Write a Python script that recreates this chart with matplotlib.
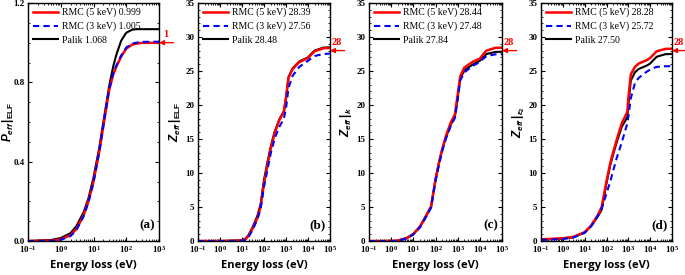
import numpy as np
import matplotlib
matplotlib.use("Agg")
import matplotlib.pyplot as plt
from matplotlib.ticker import LogLocator, MultipleLocator, NullFormatter

# --- Data ---

# (a) P_eff | ELF
a_energy = [0.1, 0.5, 1, 2, 3, 5, 7, 10, 15, 20, 30, 40, 50, 70, 100, 150, 200, 300, 1000]
a_rmc5 = [0, 0.002, 0.008, 0.03, 0.06, 0.13, 0.20, 0.30, 0.45, 0.58, 0.76, 0.84, 0.88,
          0.93, 0.97, 0.99, 0.995, 0.999, 0.999]
a_rmc3 = [0, 0.001, 0.006, 0.025, 0.055, 0.125, 0.195, 0.295, 0.45, 0.58, 0.765, 0.845,
          0.885, 0.935, 0.975, 0.995, 1.0, 1.004, 1.005]
a_palik = [0, 0.005, 0.015, 0.04, 0.075, 0.145, 0.215, 0.32, 0.47, 0.60, 0.78, 0.88,
           0.94, 1.01, 1.05, 1.065, 1.068, 1.068, 1.068]

# (b) Z_eff | ELF
b_energy = [0.1, 1, 10, 15, 20, 30, 50, 70, 100, 150, 200, 300, 500, 800, 1000, 1300,
            2000, 4000, 10000, 13000, 20000, 50000, 100000]
b_rmc5 = [0, 0, 0.05, 0.3, 0.8, 1.8, 3.4, 5.0, 8.5, 11.5, 13.5, 15.8, 17.8, 19.0, 21.0,
          24.0, 25.3, 26.3, 26.9, 27.3, 27.9, 28.35, 28.39]
b_rmc3 = [0, 0, 0.03, 0.2, 0.6, 1.6, 3.2, 4.7, 8.0, 10.8, 12.8, 15.0, 16.8, 18.0, 19.5,
          22.5, 24.3, 25.6, 26.5, 26.8, 27.2, 27.5, 27.56]
b_palik = [0, 0, 0.08, 0.4, 0.9, 2.0, 3.7, 5.4, 9.0, 11.9, 13.8, 16.0, 17.9, 19.1, 21.1,
           24.1, 25.4, 26.4, 27.0, 27.4, 28.0, 28.44, 28.48]

# (c) Z_eff | k
c_energy = [0.1, 1, 2, 5, 10, 20, 40, 63, 100, 150, 200, 300, 500, 750, 1000, 1300,
            2000, 5000, 10000, 13000, 20000, 50000, 100000]
c_rmc5 = [0, 0, 0.05, 0.4, 1.0, 2.1, 3.8, 5.0, 9.0, 11.8, 13.5, 15.5, 17.5, 18.6, 21.5,
          24.2, 25.5, 26.4, 26.8, 27.3, 28.0, 28.4, 28.44]
c_rmc3 = [0, 0, 0.03, 0.35, 0.95, 2.0, 3.7, 4.9, 8.8, 11.5, 13.2, 15.1, 17.0, 18.1, 20.8,
          23.6, 24.8, 25.8, 26.3, 26.7, 27.2, 27.45, 27.48]
c_palik = [0, 0, 0.06, 0.45, 1.05, 2.15, 3.9, 5.1, 9.1, 11.8, 13.4, 15.3, 17.2, 18.3, 21.0,
           23.9, 25.1, 26.0, 26.5, 26.9, 27.5, 27.8, 27.84]

# (d) Z_eff | eps2
d_energy = [0.1, 1, 3, 10, 20, 40, 60, 100, 150, 200, 300, 500, 900, 1000, 1300, 2000,
            3000, 7000, 10000, 13000, 20000, 50000, 100000]
d_rmc5 = [0.25, 0.4, 0.6, 1.3, 2.3, 3.8, 5.0, 8.8, 11.5, 13.0, 15.0, 17.3, 19.0, 21.0,
          24.5, 25.6, 26.1, 26.6, 26.9, 27.3, 27.9, 28.25, 28.28]
d_rmc3 = [0.15, 0.3, 0.5, 1.2, 2.2, 3.7, 4.8, 7.0, 8.8, 10.3, 12.3, 14.5, 17.3, 18.3,
          21.0, 23.2, 24.0, 24.9, 25.2, 25.4, 25.6, 25.7, 25.72]
d_palik = [0.2, 0.35, 0.55, 1.25, 2.2, 3.6, 4.6, 8.5, 11.2, 12.7, 14.6, 16.8, 18.2, 20.0,
           23.6, 24.8, 25.3, 25.8, 26.1, 26.5, 27.1, 27.47, 27.50]

legend_vals = {
    "a": ("0.999", "1.005", "1.068"),
    "b": ("28.39", "27.56", "28.48"),
    "c": ("28.44", "27.48", "27.84"),
    "d": ("28.28", "25.72", "27.50"),
}

panels = [
    ("a", a_energy, a_rmc5, a_rmc3, a_palik, r"$P_{eff}\,|_{\mathrm{ELF}}$", (1e-1, 1e3), (0, 1.2), 0.4, 0.1, 1.0, "1"),
    ("b", b_energy, b_rmc5, b_rmc3, b_palik, r"$Z_{eff}\,|_{\mathrm{ELF}}$", (1e-1, 1e5), (0, 35), 5, 1, 28, "28"),
    ("c", c_energy, c_rmc5, c_rmc3, c_palik, r"$Z_{eff}\,|_{k}$", (1e-1, 1e5), (0, 35), 5, 1, 28, "28"),
    ("d", d_energy, d_rmc5, d_rmc3, d_palik, r"$Z_{eff}\,|_{\varepsilon_2}$", (1e-1, 1e5), (0, 35), 5, 1, 28, "28"),
]

# --- Style ---
plt.rcParams["mathtext.fontset"] = "custom"
plt.rcParams["mathtext.it"] = "Liberation Sans:italic:bold"
plt.rcParams["mathtext.rm"] = "Liberation Sans:bold"
plt.rcParams["mathtext.bf"] = "Liberation Sans:bold"
serif = "Liberation Serif"

fig = plt.figure(figsize=(6.85, 2.75), dpi=100)
lefts = [28, 198, 369, 541]
rights = [159, 330, 502, 672]
top_px, bot_px = 3, 241

for (tag, en, r5, r3, pk, ylab, xlim, ylim, major, minor, arrow_y, arrow_txt), l, r in zip(panels, lefts, rights):
    ax = fig.add_axes([l / 685, (275 - bot_px) / 275, (r - l) / 685, (bot_px - top_px) / 275])
    v5, v3, vp = legend_vals[tag]
    h_p, = ax.plot(en, pk, color="black", lw=1.5, label=f"Palik {vp}")
    h_5, = ax.plot(en, r5, color="red", lw=1.8, label=f"RMC (5 keV) {v5}")
    h_3, = ax.plot(en, r3, color="blue", lw=1.5, ls=(0, (3, 2)), label=f"RMC (3 keV) {v3}")

    ax.set_xscale("log")
    ax.set_xlim(*xlim)
    ax.set_ylim(*ylim)
    ax.xaxis.set_major_locator(LogLocator(base=10, numticks=10))
    ax.xaxis.set_minor_locator(LogLocator(base=10, subs=np.arange(2, 10), numticks=10))
    ax.xaxis.set_minor_formatter(NullFormatter())
    ax.yaxis.set_major_locator(MultipleLocator(major))
    ax.yaxis.set_minor_locator(MultipleLocator(minor))
    if tag == "a":
        ax.yaxis.set_major_formatter(plt.FuncFormatter(lambda v, p: f"{v:.1f}"))
    else:
        ax.yaxis.set_major_formatter(plt.FuncFormatter(lambda v, p: f"{v:.0f}"))
    ax.tick_params(which="both", direction="in", top=True, right=True)
    ax.tick_params(which="major", length=3, width=0.8, labelsize=6.5, pad=2.5)
    ax.tick_params(which="minor", length=1.5, width=0.6)
    for lab in ax.get_xticklabels() + ax.get_yticklabels():
        lab.set_fontfamily(serif)
        lab.set_fontweight("bold")
    for s in ax.spines.values():
        s.set_linewidth(1.0)

    ax.set_xlabel("Energy loss (eV)", fontfamily="Open Sans", fontweight="bold", fontsize=8, labelpad=3)
    ax.set_ylabel(ylab, fontsize=8.5)
    ax.yaxis.set_label_coords(-0.095 if tag == "a" else -0.11, 0.5)

    ax.legend(handles=[h_5, h_3, h_p], loc="upper left", frameon=False,
              prop={"family": serif, "size": 7}, handlelength=2.6, handletextpad=0.4,
              labelspacing=0.45, borderaxespad=0.3, borderpad=0.2)

    ax.text(0.97, 0.04, f"({tag})", transform=ax.transAxes, ha="right", va="bottom",
            fontfamily=serif, fontweight="bold", fontsize=9.5)

    # red arrow pointing at the limiting value
    ax.annotate("", xy=(1.0, arrow_y), xycoords=("axes fraction", "data"),
                xytext=(1.11, arrow_y), textcoords=("axes fraction", "data"),
                arrowprops=dict(arrowstyle="-|>", color="red", lw=1.0, mutation_scale=7,
                                shrinkA=0, shrinkB=0), annotation_clip=False)
    ax.text(1.05, arrow_y + (ylim[1] - ylim[0]) * 0.015, arrow_txt, transform=ax.get_yaxis_transform(),
            color="red", ha="center", va="bottom", fontfamily=serif, fontweight="bold", fontsize=7.5)

fig.savefig("out.png", dpi=100)
